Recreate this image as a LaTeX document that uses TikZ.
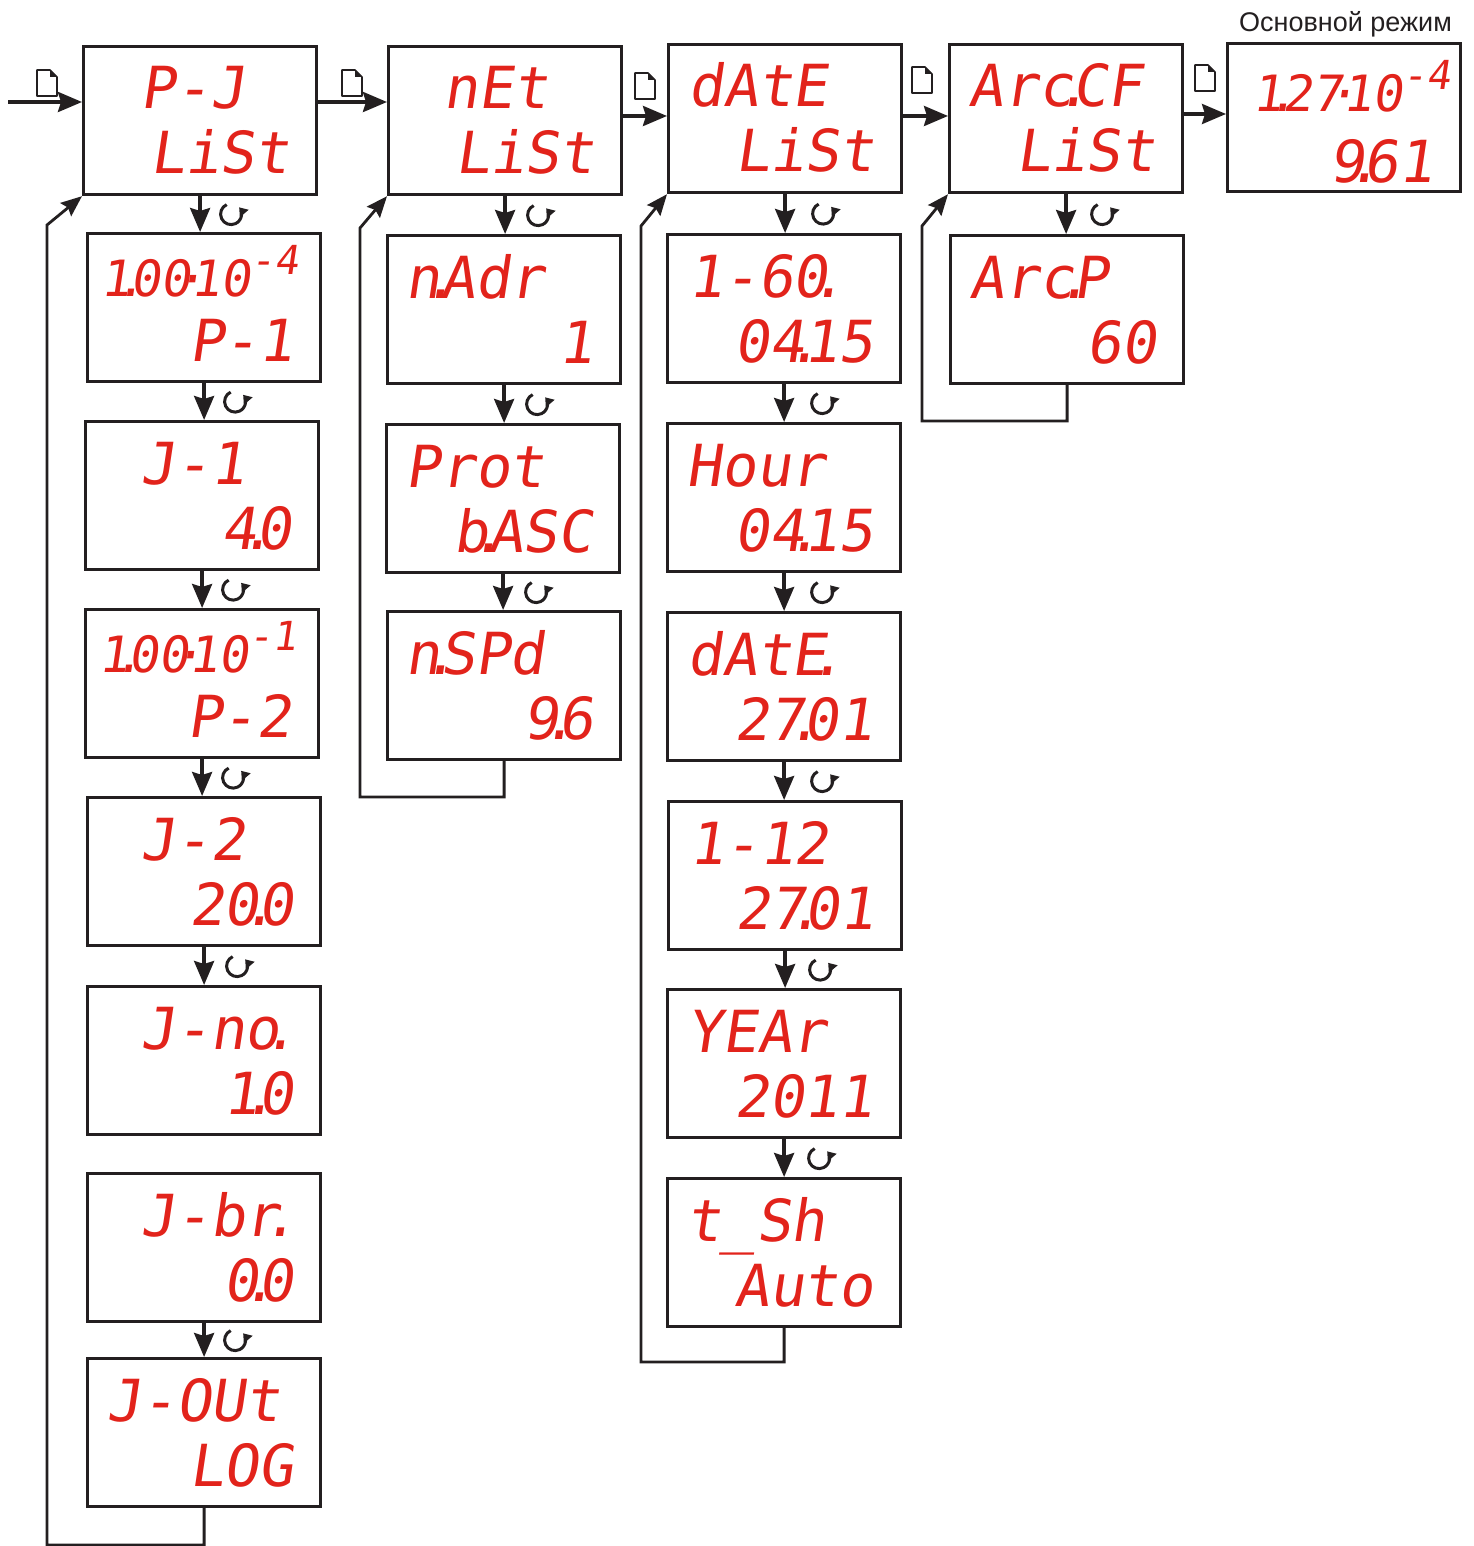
\documentclass[tikz,border=0pt]{standalone}
\usepackage{fontspec}
\setmainfont{Liberation Sans}
\newfontfamily\segfont{DejaVu Sans Mono}[FakeSlant=0.15]
\usetikzlibrary{arrows.meta,calc}
\definecolor{segred}{RGB}{226,35,27}
\definecolor{ink}{RGB}{35,31,32}
\newcommand\sdot{\makebox[0pt][c]{.}}
\newcommand\smid{\makebox[0pt][c]{·}}
\newcommand\ssup[1]{\raisebox{22pt}{\fontsize{40}{40}\selectfont #1}}
\tikzset{
  x=1pt, y=-1pt,
  scrbox/.style={draw=ink, line width=3.2pt, minimum width=233pt, minimum height=148pt, inner sep=0pt, anchor=north west},
  segtxt/.style={inner sep=0pt, text=segred, font=\segfont\fontsize{58}{58}\selectfont},
  segsmall/.style={inner sep=0pt, text=segred, font=\segfont\fontsize{50}{50}\selectfont},
  arr/.style={draw=ink, line width=3.4pt, -{Stealth[length=24pt,width=20pt,inset=3pt]}},
  loopline/.style={draw=ink, line width=2.8pt, -{Stealth[length=21pt,width=17pt,inset=3pt]}},
  rotsym/.pic={\draw[ink, line width=3pt, -{Triangle[length=8pt,width=11pt]}] (115:10.5pt) arc[start angle=115, end angle=400, radius=10.5pt];},
  docicon/.pic={
    \draw[ink, line width=1.6pt, line join=round, fill=white] (-10,-13) -- (3,-13) -- (10,-6) -- (10,13) -- (-10,13) -- cycle;
    \fill[ink] (3,-13) -- (10,-6) -- (3,-6) -- cycle;}
}
\newcommand\segbox[7][segtxt]{%
  \node[scrbox] (#2) at (#3,#4) {};
  \node[#1, anchor=base west] (#2-t) at (#3+#5,#4+64) {#6};
  \node[segtxt, anchor=base east] (#2-b) at (#3+208,#4+129) {#7};
}
\newcommand\vlink[3]{%
  \draw[arr] (#1.south) -- (#1.south |- #2.north);
  \pic at ($(#1.south)!0.5!(#1.south |- #2.north)+(#3,0)$) {rotsym};
}
\begin{document}
\begin{tikzpicture}
\useasboundingbox (0,0) rectangle (1473,1546);
% column 1
\segbox{PJ}{82}{45}{58}{P-J}{LiSt}
\segbox[segsmall]{P1}{86}{232}{14}{1\sdot00\smid10\ssup{-4}}{P-1}
\segbox{J1}{84}{420}{56}{J-1}{4\sdot0}
\segbox[segsmall]{P2}{84}{608}{14}{1\sdot00\smid10\ssup{-1}}{P-2}
\segbox{J2}{86}{796}{54}{J-2}{20\sdot0}
\segbox{Jno}{86}{985}{54}{J-no\sdot}{1\sdot0}
\segbox{Jbr}{86}{1172}{54}{J-br\sdot}{0\sdot0}
\segbox{Jout}{86}{1357}{20}{J-OUt}{LOG}
% column 2
\segbox{nEt}{387}{45}{56}{nEt}{LiSt}
\segbox{nAdr}{386}{234}{19}{n\sdot Adr}{1}
\segbox{Prot}{385}{423}{20}{Prot}{b\sdot ASC}
\segbox{nSPd}{386}{610}{19}{n\sdot SPd}{9\sdot6}
% column 3
\segbox{dAtE}{667}{43}{21}{dAtE}{LiSt}
\segbox{dsixty}{666}{233}{22}{1-60\sdot}{04\sdot15}
\segbox{Hour}{666}{422}{20}{Hour}{04\sdot15}
\segbox{dAtEd}{666}{611}{21}{dAtE\sdot}{27\sdot01}
\segbox{dtwelve}{667}{800}{22}{1-12}{27\sdot01}
\segbox{YEAr}{666}{988}{21}{YEAr}{2011}
\segbox{tSh}{666}{1177}{20}{t\_Sh}{Auto}
% column 4
\segbox{ArcCF}{948}{43}{20}{Arc\sdot CF}{LiSt}
\segbox{ArcP}{949}{234}{20}{Arc\sdot P}{60}
% main mode
\node[scrbox] (Main) at (1226,42) {};
\node[segsmall, anchor=base west] (Main-t) at (1252,112) {1\sdot27\smid10\ssup{-4}};
\node[segtxt, anchor=base east] (Main-b) at (1434,183) {9\sdot61};
\node[anchor=base east, inner sep=0pt, text=ink, font=\fontsize{27}{27}\selectfont] (lbl) at (1452,32) {Основной режим};
% vertical links
\vlink{PJ}{P1}{31}
\vlink{P1}{J1}{31}
\vlink{J1}{P2}{31}
\vlink{P2}{J2}{31}
\vlink{J2}{Jno}{33}
\vlink{Jbr}{Jout}{31}
\vlink{nEt}{nAdr}{33}
\vlink{nAdr}{Prot}{33}
\vlink{Prot}{nSPd}{33}
\vlink{dAtE}{dsixty}{38}
\vlink{dsixty}{Hour}{38}
\vlink{Hour}{dAtEd}{38}
\vlink{dAtEd}{dtwelve}{38}
\vlink{dtwelve}{YEAr}{35}
\vlink{YEAr}{tSh}{35}
\vlink{ArcCF}{ArcP}{36}
% horizontal links
\coordinate (in) at (8,102);
\coordinate (h1) at (0,102);
\coordinate (h2) at (0,116);
\coordinate (h3) at (0,114);
\draw[arr] (in) -- (in -| PJ.west);
\draw[arr] (PJ.east |- h1) -- (nEt.west |- h1);
\draw[arr] (nEt.east |- h2) -- (dAtE.west |- h2);
\draw[arr] (dAtE.east |- h2) -- (ArcCF.west |- h2);
\draw[arr] (ArcCF.east |- h3) -- (Main.west |- h3);
\pic at (47,83) {docicon};
\pic at (352,83) {docicon};
\pic at (645,86) {docicon};
\pic at (922,80) {docicon};
\pic at (1205,78) {docicon};
% return loops
\coordinate (L1a) at (47,1545); \coordinate (L1b) at (47,225);
\coordinate (L2a) at (360,797); \coordinate (L2b) at (360,228);
\coordinate (L3a) at (641,1362); \coordinate (L3b) at (641,226);
\coordinate (L4a) at (922,421); \coordinate (L4b) at (922,226);
\draw[loopline] (Jout.south) |- (L1a) -- (L1b) -- (PJ.south west);
\draw[loopline] (nSPd.south) |- (L2a) -- (L2b) -- (nEt.south west);
\draw[loopline] (tSh.south) |- (L3a) -- (L3b) -- (dAtE.south west);
\draw[loopline] (ArcP.south) |- (L4a) -- (L4b) -- (ArcCF.south west);
\end{tikzpicture}
\end{document}
